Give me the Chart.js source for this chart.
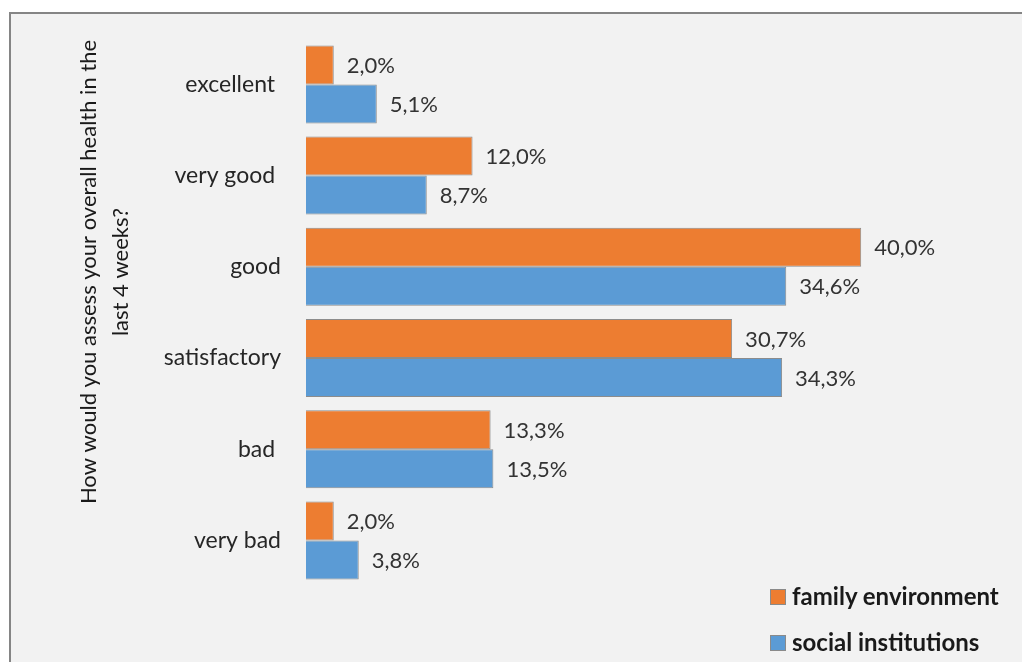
<!DOCTYPE html>
<html>
<head>
<meta charset="utf-8">
<script src="https://cdn.jsdelivr.net/npm/chart.js@4/dist/chart.umd.min.js"></script>
<style>
  html, body { margin: 0; padding: 0; background: #ffffff; }
  #wrap { position: relative; width: 1022px; height: 662px; }
  canvas { display: block; }
  .legend { position: absolute; left: 770px; font-family: Lato, "Open Sans", sans-serif; font-weight: bold; font-size: 24px; color: #1a1a1a; line-height: 24px; white-space: nowrap; }
  .legend span.box { display: inline-block; width: 14px; height: 14px; border: 1px solid #8a8a8a; vertical-align: middle; margin-right: 6px; position: relative; top: -2px; }
</style>
</head>
<body>
<div id="wrap">
  <canvas id="chart" width="1022" height="662"></canvas>
  <div class="legend" style="top:584px"><span class="box" style="background:#ed7d31"></span>family environment</div>
  <div class="legend" style="top:630px"><span class="box" style="background:#5b9bd5"></span>social institutions</div>
</div>
<script>
// Self-rated health over the last 4 weeks, share of respondents (%)
const categories = ['excellent ', 'very good ', 'good', 'satisfactory', 'bad ', 'very bad'];
const familyEnvironment = [2.0, 12.0, 40.0, 30.7, 13.3, 2.0];
const socialInstitutions = [5.1, 8.7, 34.6, 34.3, 13.5, 3.8];
const seriesNames = ['family environment', 'social institutions'];
const axisTitleLines = ['How would you assess your overall health in the', 'last 4 weeks?'];

const FONT = 'Lato, "Open Sans", sans-serif';

// Panel background with the grey frame along the top and left edges
const panelPlugin = {
  id: 'panel',
  beforeDraw(chart) {
    const ctx = chart.ctx;
    ctx.save();
    ctx.fillStyle = '#ffffff';
    ctx.fillRect(0, 0, chart.width, chart.height);
    ctx.fillStyle = '#f2f2f2';
    ctx.fillRect(10, 13, chart.width - 10, chart.height - 13);
    ctx.fillStyle = '#858585';
    ctx.fillRect(9, 12, chart.width - 9, 2);
    ctx.fillRect(9, 12, 2, chart.height - 12);
    ctx.restore();
  }
};

// Percentage labels just past the end of each bar
const valueLabelPlugin = {
  id: 'valueLabels',
  afterDatasetsDraw(chart) {
    const ctx = chart.ctx;
    ctx.save();
    ctx.font = '22px ' + FONT;
    ctx.fillStyle = '#333333';
    ctx.textAlign = 'left';
    ctx.textBaseline = 'middle';
    chart.data.datasets.forEach((ds, di) => {
      chart.getDatasetMeta(di).data.forEach((bar, i) => {
        const txt = ds.data[i].toFixed(1).replace('.', ',') + '%';
        ctx.fillText(txt, bar.x + 13, bar.y + 1);
      });
    });
    ctx.restore();
  }
};

// Rotated two-line title for the category axis
const axisTitlePlugin = {
  id: 'axisTitle',
  afterDraw(chart) {
    const ctx = chart.ctx;
    ctx.save();
    ctx.font = '22px ' + FONT;
    ctx.fillStyle = '#1a1a1a';
    ctx.textAlign = 'center';
    ctx.textBaseline = 'middle';
    ctx.translate(0, 272);
    ctx.rotate(-Math.PI / 2);
    ctx.fillText(axisTitleLines[0], 0, 89);
    ctx.fillText(axisTitleLines[1], 0, 121);
    ctx.restore();
  }
};

new Chart(document.getElementById('chart'), {
  type: 'bar',
  data: {
    labels: categories,
    datasets: [
      { label: seriesNames[0], data: familyEnvironment, backgroundColor: '#ed7d31', borderColor: '#8c8c8c', borderWidth: 1 },
      { label: seriesNames[1], data: socialInstitutions, backgroundColor: '#5b9bd5', borderColor: '#8c8c8c', borderWidth: 1 }
    ]
  },
  options: {
    indexAxis: 'y',
    responsive: false,
    devicePixelRatio: 1,
    animation: false,
    barPercentage: 1,
    categoryPercentage: 0.855,
    layout: { padding: { left: 0, right: 22, top: 34, bottom: 76 } },
    plugins: { legend: { display: false }, tooltip: { enabled: false } },
    scales: {
      x: { min: 0, max: 50, display: false },
      y: {
        grid: { display: false, drawTicks: false },
        border: { display: false },
        ticks: { padding: 25, color: '#262626', font: { family: FONT, size: 23 } },
        afterFit(scale) { scale.width = 306; }
      }
    }
  },
  plugins: [panelPlugin, valueLabelPlugin, axisTitlePlugin]
});
</script>
</body>
</html>
